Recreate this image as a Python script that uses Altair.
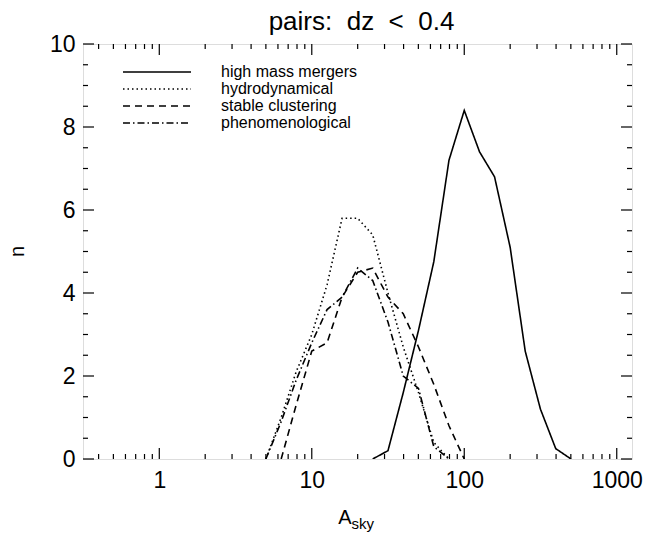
import altair as alt
import pandas as pd

# Histogram bin centres (log-spaced, 0.1 dex) shared by all four models
bins = [5.0, 6.3, 7.9, 10.0, 12.6, 15.8, 20.0, 25.1, 31.6, 39.8, 50.1,
        63.1, 79.4, 100.0, 126.0, 158.0, 200.0, 251.0, 316.0, 398.0, 501.0]

# Counts per bin for each model (None = bin not drawn)
n_mergers = [None, None, None, None, None, None, None, 0.0, 0.2, 1.6, 3.1,
             4.75, 7.2, 8.4, 7.4, 6.8, 5.1, 2.6, 1.2, 0.25, 0.0]
n_hydro = [0.0, 1.0, 2.1, 3.0, 4.2, 5.8, 5.8, 5.4, 4.0, 2.7, 1.6,
           0.4, 0.0, None, None, None, None, None, None, None, None]
n_stable = [None, 0.0, 1.3, 2.6, 2.8, 3.9, 4.5, 4.6, 3.9, 3.5, 2.7,
            1.8, 0.8, 0.0, None, None, None, None, None, None, None]
n_pheno = [0.0, 0.9, 1.9, 2.8, 3.6, 3.9, 4.6, 4.3, 3.3, 2.0, 1.7,
           0.3, 0.0, None, None, None, None, None, None, None, None]

series = ["high mass mergers", "hydrodynamical", "stable clustering", "phenomenological"]
dashes = [[1, 0], [1.5, 3], [7, 5], [7, 3, 1.5, 3]]

rows = []
for name, vals in zip(series, [n_mergers, n_hydro, n_stable, n_pheno]):
    for a, v in zip(bins, vals):
        if v is not None:
            rows.append({"A": a, "n": v, "model": name})
df = pd.DataFrame(rows)

# Axis tick values
x_major = [1, 10, 100, 1000]
x_minor = [v * m for v in [0.1, 1, 10, 100, 1000] for m in range(2, 10)
           if 0.32 <= v * m <= 1250]
y_major = [0, 2, 4, 6, 8, 10]
y_minor = [i * 0.5 for i in range(21) if i % 4 != 0]

W, H = 549, 415
FONT = "Liberation Sans"
dash_scale = alt.Scale(domain=series, range=dashes)

xscale = alt.Scale(type="log", domain=[0.316, 1259], nice=False)
yscale = alt.Scale(domain=[0, 10], nice=False, zero=False)

lines = alt.Chart(df).mark_line(color="black", strokeWidth=1.6, clip=True).encode(
    x=alt.X("A:Q", scale=xscale,
            axis=alt.Axis(values=x_major, ticks=False, domain=False, grid=False,
                          labelFontSize=23, labelFont=FONT, labelColor="black",
                          labelPadding=10, format="~r", title=None)),
    y=alt.Y("n:Q", scale=yscale,
            axis=alt.Axis(values=y_major, ticks=False, domain=False, grid=False,
                          labelFontSize=23, labelFont=FONT, labelColor="black",
                          labelPadding=8, title=None)),
    strokeDash=alt.StrokeDash("model:N", scale=dash_scale, legend=None),
    detail="model:N",
)

# Inward ticks on all four sides
def xticks(values, length):
    d = pd.DataFrame({"A": values})
    bottom = alt.Chart(d).mark_rule(color="black", strokeWidth=1.2).encode(
        x=alt.X("A:Q", scale=xscale), y=alt.value(H), y2=alt.value(H - length))
    top = alt.Chart(d).mark_rule(color="black", strokeWidth=1.2).encode(
        x=alt.X("A:Q", scale=xscale), y=alt.value(0), y2=alt.value(length))
    return bottom + top

def yticks(values, length):
    d = pd.DataFrame({"n": values})
    left = alt.Chart(d).mark_rule(color="black", strokeWidth=1.2).encode(
        y=alt.Y("n:Q", scale=yscale), x=alt.value(0), x2=alt.value(length))
    right = alt.Chart(d).mark_rule(color="black", strokeWidth=1.2).encode(
        y=alt.Y("n:Q", scale=yscale), x=alt.value(W), x2=alt.value(W - length))
    return left + right

ticks = xticks(x_major, 11) + xticks(x_minor, 5) + yticks(y_major, 11) + yticks(y_minor, 5)

# Legend drawn inside the plot, one row per model
row_y = [28, 45, 62, 79]
legend_layers = []
for name, dash, ry in zip(series, dashes, row_y):
    d = pd.DataFrame({"model": [name]})
    legend_layers.append(alt.Chart(d).mark_rule(color="black", strokeWidth=1.6,
                                                strokeDash=dash).encode(
        x=alt.value(40), x2=alt.value(108), y=alt.value(ry)))
    legend_layers.append(alt.Chart(d).mark_text(
        align="left", baseline="middle", fontSize=16, font=FONT, color="black").encode(
        x=alt.value(138), y=alt.value(ry), text="model:N"))

# Title and axis titles: "n" and A with subscript "sky"
title = alt.Chart(pd.DataFrame({"t": ["pairs:\u00a0 dz\u00a0 <\u00a0 0.4"]})).mark_text(
    fontSize=26, font=FONT, align="center", baseline="alphabetic", color="black").encode(
    x=alt.value(W / 2 + 4), y=alt.value(-14), text="t:N")
ytitle = alt.Chart(pd.DataFrame({"t": ["n"]})).mark_text(
    fontSize=20, font=FONT, angle=270, color="black").encode(
    x=alt.value(-65), y=alt.value(H / 2), text="t:N")
xtitle_a = alt.Chart(pd.DataFrame({"t": ["A"]})).mark_text(
    fontSize=20, font=FONT, align="right", baseline="alphabetic", color="black").encode(
    x=alt.value(W / 2 - 6), y=alt.value(H + 65), text="t:N")
xtitle_s = alt.Chart(pd.DataFrame({"t": ["sky"]})).mark_text(
    fontSize=15, font=FONT, align="left", baseline="alphabetic", color="black").encode(
    x=alt.value(W / 2 - 6), y=alt.value(H + 70), text="t:N")

chart = alt.layer(lines, ticks, *legend_layers, title, ytitle, xtitle_a, xtitle_s).properties(
    width=W, height=H,
    autosize=alt.AutoSizeParams(type="none"),
    padding={"left": 83, "top": 44, "right": 33, "bottom": 75},
).configure_view(stroke="black", strokeWidth=1.4).configure(background="white")

chart.save("out.html", embed_options={"renderer": "svg", "actions": False})
